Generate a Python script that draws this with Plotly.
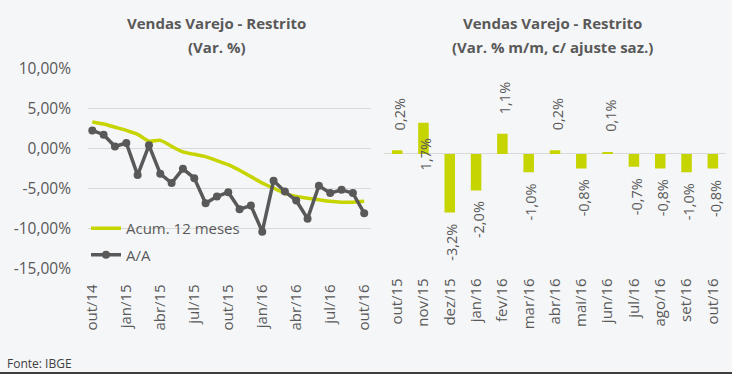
import plotly.graph_objects as go

# ---------------- data ----------------
months_left = ["out/14", "nov/14", "dez/14", "jan/15", "fev/15", "mar/15", "abr/15", "mai/15",
               "jun/15", "jul/15", "ago/15", "set/15", "out/15", "nov/15", "dez/15", "jan/16",
               "fev/16", "mar/16", "abr/16", "mai/16", "jun/16", "jul/16", "ago/16", "set/16", "out/16"]
acum_12m = [3.36, 3.1, 2.7, 2.3, 1.8, 0.95, 1.05, 0.3, -0.4, -0.7, -1.0, -1.5, -2.0,
            -2.7, -3.5, -4.3, -4.95, -5.6, -6.0, -6.2, -6.4, -6.6, -6.7, -6.7, -6.6]
a_a = [2.3, 1.76, 0.29, 0.72, -3.31, 0.42, -3.14, -4.31, -2.52, -3.69, -6.83, -6.0, -5.45,
       -7.58, -7.13, -10.4, -4.03, -5.37, -6.5, -8.77, -4.65, -5.57, -5.16, -5.57, -8.09]
left_ticks = [10, 5, 0, -5, -10, -15]

months_right = ["out/15", "nov/15", "dez/15", "jan/16", "fev/16", "mar/16", "abr/16",
                "mai/16", "jun/16", "jul/16", "ago/16", "set/16", "out/16"]
mm_sa = [0.2, 1.7, -3.2, -2.0, 1.1, -1.0, 0.2, -0.8, 0.1, -0.7, -0.8, -1.0, -0.8]

# ---------------- style ----------------
W, H = 734, 374
BG = "#f5f6f8"
TXT = "#595959"
LIME = "#c6d400"
GRAY = "#595959"
GRID = "#d9d9d9"
FONT = "Open Sans"

def px_x(x):
    return x / W

def px_y(y):
    return (H - y) / H

def fmt_pct(v, d):
    s = f"{v:.{d}f}".replace(".", ",")
    return s + "%"

fig = go.Figure()

fig.add_trace(go.Scatter(
    x=months_left, y=acum_12m, name="Acum. 12 meses", mode="lines", legendgroup="a",
    line=dict(color=LIME, width=3.5, shape="spline", smoothing=0.8),
    xaxis="x", yaxis="y", hoverinfo="skip"))
fig.add_trace(go.Scatter(
    x=months_left, y=a_a, name="A/A", mode="lines+markers", legendgroup="b",
    line=dict(color=GRAY, width=3.5), marker=dict(color=GRAY, size=8),
    xaxis="x", yaxis="y", hoverinfo="skip"))

fig.add_trace(go.Bar(
    x=months_right, y=mm_sa, marker=dict(color=LIME, line=dict(width=0)),
    xaxis="x2", yaxis="y2", showlegend=False, hoverinfo="skip"))

ydom = [px_y(268.3), px_y(69)]

annotations = []
# titles
for cx, l1, l2 in [(216, "Vendas Varejo - Restrito", "(Var. %)"),
                   (552, "Vendas Varejo - Restrito", "(Var. % m/m, c/ ajuste saz.)")]:
    annotations.append(dict(x=px_x(cx), y=px_y(23), xref="paper", yref="paper",
                            text="<b>" + l1 + "</b>", showarrow=False,
                            font=dict(family=FONT, size=15, color=TXT),
                            xanchor="center", yanchor="middle"))
    annotations.append(dict(x=px_x(cx), y=px_y(47), xref="paper", yref="paper",
                            text="<b>" + l2 + "</b>", showarrow=False,
                            font=dict(family=FONT, size=15, color=TXT),
                            xanchor="center", yanchor="middle"))

# bar labels
for i, (m, v) in enumerate(zip(months_right, mm_sa)):
    a = dict(x=m, y=v, xref="x2", yref="y2", text=fmt_pct(v, 1), showarrow=False,
             textangle=-90, font=dict(family=FONT, size=14.5, color=TXT), xshift=2)
    if i == 1:
        a.update(y=0, yanchor="middle")
    elif v >= 0:
        a.update(yanchor="bottom", yshift=18)
    else:
        a.update(yanchor="top", yshift=-9)
    annotations.append(a)

annotations.append(dict(x=px_x(5), y=px_y(363), xref="paper", yref="paper",
                        text="Fonte: IBGE", showarrow=False, xanchor="left",
                        yanchor="middle", font=dict(family=FONT, size=12, color="#404040")))

fig.update_layout(
    width=W, height=H,
    margin=dict(l=0, r=0, t=0, b=0, pad=0, autoexpand=False),
    paper_bgcolor=BG, plot_bgcolor=BG,
    font=dict(family=FONT, color=TXT, size=14),
    showlegend=True,
    legend=dict(x=px_x(86), y=px_y(212), xanchor="left", yanchor="top",
                bgcolor="rgba(0,0,0,0)", font=dict(family=FONT, size=15, color=TXT),
                tracegroupgap=4, traceorder="grouped"),
    bargap=0.6,
    xaxis=dict(domain=[px_x(88), px_x(371)], type="category",
               categoryarray=months_left, range=[-0.38, 24.6],
               tickvals=months_left[::3], tickangle=-90, showgrid=False,
               showline=False, zeroline=False, ticks="", automargin=False,
               ticklabelstandoff=12,
               tickfont=dict(family=FONT, size=15, color=TXT)),
    yaxis=dict(domain=ydom, range=[-15, 10], tickvals=left_ticks,
               ticktext=[fmt_pct(v, 2) for v in left_ticks],
               showgrid=True, gridcolor=GRID, gridwidth=1, zeroline=False,
               showline=False, ticks="", ticklabelstandoff=16, automargin=False,
               tickfont=dict(family=FONT, size=15.5, color=TXT)),
    xaxis2=dict(domain=[px_x(384), px_x(726)], type="category",
                categoryarray=months_right, range=[-0.5, 12.5],
                tickangle=-90, showgrid=False, showline=False, zeroline=False,
                ticks="", ticklabelstandoff=6, automargin=False,
                tickfont=dict(family=FONT, size=15, color=TXT), anchor="y2"),
    yaxis2=dict(domain=ydom, range=[-6.25, 4.64], showticklabels=False,
                showgrid=False, zeroline=True, zerolinecolor=GRID, zerolinewidth=1,
                automargin=False, anchor="x2"),
    annotations=annotations,
    shapes=[
        dict(type="line", xref="paper", yref="paper", x0=0, x1=px_x(733),
             y0=px_y(373), y1=px_y(373), line=dict(color="#000000", width=1.5)),
        dict(type="rect", xref="paper", yref="paper", x0=px_x(732), x1=1,
             y0=0, y1=1, fillcolor="#ffffff", line=dict(width=0)),
    ],
)

fig.write_html("out.html", config={"displayModeBar": False},
               post_script="document.body.style.margin='0';")
